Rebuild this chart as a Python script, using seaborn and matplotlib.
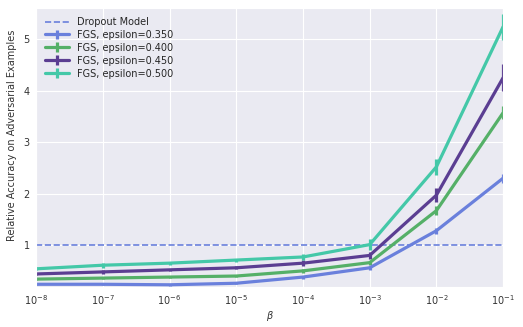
import numpy as np
import seaborn as sns
import matplotlib
matplotlib.use("Agg")
import matplotlib.pyplot as plt

betas = [1e-8, 1e-7, 1e-6, 1e-5, 1e-4, 1e-3, 1e-2, 1e-1]
labels = ["FGS, epsilon=0.350", "FGS, epsilon=0.400", "FGS, epsilon=0.450", "FGS, epsilon=0.500"]
colors = ["#6a80dc", "#55b068", "#5b3e92", "#44c8a8"]

acc_350 = [0.24, 0.24, 0.23, 0.26, 0.38, 0.56, 1.28, 2.30]
acc_400 = [0.34, 0.36, 0.38, 0.40, 0.50, 0.66, 1.67, 3.57]
acc_450 = [0.44, 0.48, 0.52, 0.56, 0.65, 0.80, 1.97, 4.25]
acc_500 = [0.54, 0.61, 0.65, 0.71, 0.77, 1.01, 2.52, 5.24]

err_350 = [0.02, 0.02, 0.02, 0.02, 0.03, 0.04, 0.06, 0.09]
err_400 = [0.02, 0.02, 0.02, 0.02, 0.04, 0.04, 0.08, 0.13]
err_450 = [0.02, 0.04, 0.02, 0.03, 0.06, 0.06, 0.14, 0.26]
err_500 = [0.03, 0.05, 0.03, 0.03, 0.06, 0.10, 0.16, 0.25]

dropout_level = 1.0

sns.set_style("darkgrid")
plt.rcParams["font.family"] = ["DejaVu Sans"]

fig = plt.figure(figsize=(5.23, 3.27), dpi=100)
ax = fig.add_axes([0.069, 0.122, 0.893, 0.853])

ax.axhline(dropout_level, color=colors[0], ls="--", lw=1.2, label="Dropout Model")
for acc, err, lab, c in zip([acc_350, acc_400, acc_450, acc_500],
                            [err_350, err_400, err_450, err_500], labels, colors):
    ax.errorbar(betas, acc, yerr=err, color=c, lw=2.3, elinewidth=2.3, capsize=0, label=lab)

ax.set_xscale("log")
ax.set_xlim(1e-8, 1e-1)
ax.set_ylim(0.185, 5.6)
ax.set_xticks(betas)
ax.set_yticks([1, 2, 3, 4, 5])
ax.tick_params(labelsize=7, pad=1, labelcolor="0.2")
ax.minorticks_off()
ax.set_xlabel(r"$\beta$", fontsize=7, labelpad=1, color="0.2")
ax.set_ylabel("Relative Accuracy on Adversarial Examples", fontsize=7, color="0.2")
ax.yaxis.set_label_coords(-0.04, 0.545)
ax.legend(loc="upper left", fontsize=7, frameon=False, handlelength=2.5, labelspacing=0.3)

fig.savefig("out.png", dpi=100)
